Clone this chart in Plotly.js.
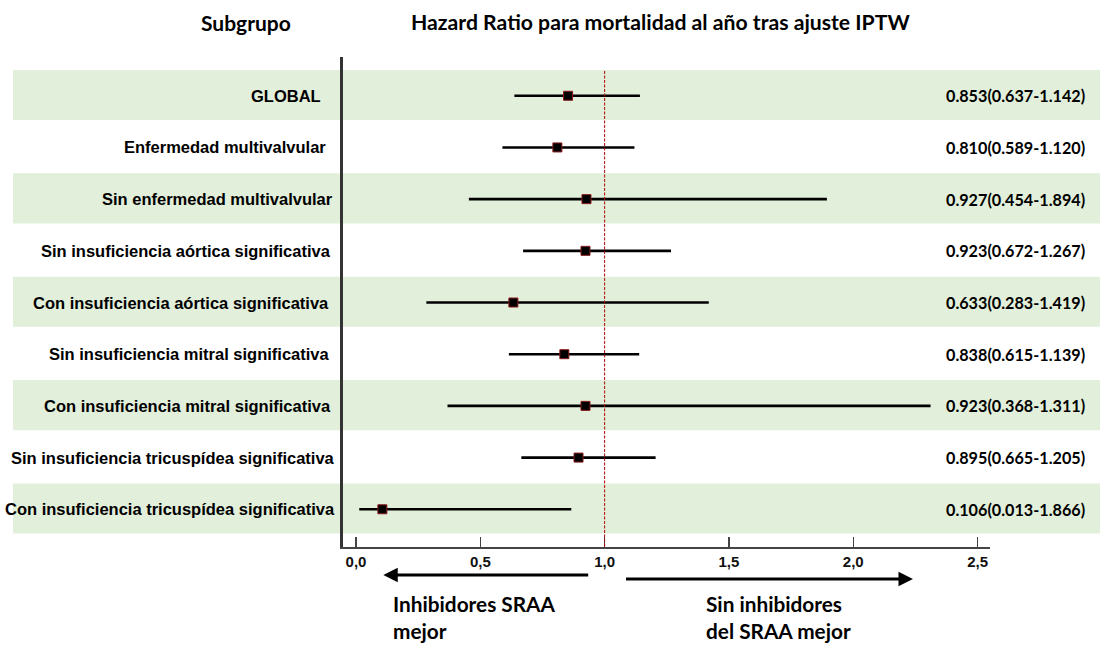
<!DOCTYPE html>
<html>
<head>
<meta charset="utf-8">
<script src="https://cdn.plot.ly/plotly-3.0.1.min.js"></script>
<style>html,body{margin:0;padding:0;background:#fff;}#chart{width:1100px;height:646px;}</style>
</head>
<body>
<div id="chart"></div>
<script>
// ---- data ----
const subgroups = [
  "GLOBAL",
  "Enfermedad multivalvular",
  "Sin enfermedad multivalvular",
  "Sin insuficiencia aórtica significativa",
  "Con insuficiencia aórtica significativa",
  "Sin insuficiencia mitral significativa",
  "Con insuficiencia mitral significativa",
  "Sin insuficiencia tricuspídea significativa",
  "Con insuficiencia tricuspídea significativa"
];
const hrEstimate = [0.853, 0.810, 0.927, 0.923, 0.633, 0.838, 0.923, 0.895, 0.106];
const ciLower    = [0.637, 0.589, 0.454, 0.672, 0.283, 0.615, 0.368, 0.665, 0.013];
const ciUpper    = [1.142, 1.120, 1.894, 1.267, 1.419, 1.139, 2.311, 1.205, 0.866];
const ciLabels = [
  "0.853(0.637-1.142)",
  "0.810(0.589-1.120)",
  "0.927(0.454-1.894)",
  "0.923(0.672-1.267)",
  "0.633(0.283-1.419)",
  "0.838(0.615-1.139)",
  "0.923(0.368-1.311)",
  "0.895(0.665-1.205)",
  "0.106(0.013-1.866)"
];
const xTickVals = [0, 0.5, 1.0, 1.5, 2.0, 2.5];
const nullHR = 1.0;

// ---- layout helpers ----
const L = 343, R = 990, T = 57, B = 547;
const W = R - L, H = B - T;
const px2paperX = p => (p - L) / W;
const px2paperY = p => (B - p) / H;
const labelRightPx = [323, 328, 335, 333, 331, 331, 333, 337, 337];

const arial = "Liberation Sans, Arial, sans-serif";
const calibri = "Lato, Carlito, Calibri, sans-serif";

const trace = {
  type: "scatter",
  mode: "markers",
  x: hrEstimate,
  y: subgroups,
  marker: {symbol: "square", size: 9, color: "#000", line: {color: "#8b1a1a", width: 1}},
  error_x: {
    type: "data", symmetric: false,
    array: hrEstimate.map((v, i) => ciUpper[i] - v),
    arrayminus: hrEstimate.map((v, i) => v - ciLower[i]),
    color: "#000", thickness: 2.6, width: 0
  },
  hoverinfo: "skip",
  showlegend: false
};

const shapes = [];
subgroups.forEach((s, i) => {
  if (i % 2 === 0) {
    shapes.push({
      type: "rect", layer: "below",
      xref: "paper", yref: "y",
      x0: px2paperX(13), x1: px2paperX(1100),
      y0: i - 0.5, y1: i + 0.47,
      fillcolor: "#e2efda", line: {width: 0}
    });
  }
});
shapes.push({
  type: "line", layer: "above", xref: "x", yref: "y",
  x0: nullHR, x1: nullHR, y0: -0.48, y1: 8.73,
  line: {color: "#b00000", width: 1, dash: "3px,1.5px"}
});

const annotations = [];
subgroups.forEach((s, i) => {
  annotations.push({
    xref: "paper", yref: "y", x: px2paperX(labelRightPx[i]), y: s,
    xanchor: "right", yanchor: "middle", showarrow: false,
    text: s, font: {family: arial, size: 16.5, color: "#000", weight: "bold"}
  });
  annotations.push({
    xref: "paper", yref: "y", x: px2paperX(1087), y: s,
    xanchor: "right", yanchor: "middle", showarrow: false,
    text: ciLabels[i], font: {family: calibri, size: 16.2, color: "#000", weight: "bold"}
  });
});
// headers
annotations.push({
  xref: "paper", yref: "paper", x: px2paperX(246), y: px2paperY(22),
  xanchor: "center", yanchor: "middle", showarrow: false,
  text: "Subgrupo", font: {family: calibri, size: 21, color: "#000", weight: "bold"}
});
annotations.push({
  xref: "paper", yref: "paper", x: px2paperX(660), y: px2paperY(22),
  xanchor: "center", yanchor: "middle", showarrow: false,
  text: "Hazard Ratio para mortalidad al año tras ajuste IPTW",
  font: {family: calibri, size: 21.2, color: "#000", weight: "bold"}
});
// direction arrows
annotations.push({
  xref: "x", yref: "paper", x: 0.11, y: px2paperY(575),
  axref: "x", ayref: "pixel", ax: 0.94, ay: 0,
  showarrow: true, arrowhead: 2, arrowsize: 0.9, arrowwidth: 3.2, arrowcolor: "#000", text: ""
});
annotations.push({
  xref: "x", yref: "paper", x: 2.24, y: px2paperY(579),
  axref: "x", ayref: "pixel", ax: 1.08, ay: 0,
  showarrow: true, arrowhead: 2, arrowsize: 0.9, arrowwidth: 3.2, arrowcolor: "#000", text: ""
});
// direction captions
annotations.push({
  xref: "paper", yref: "paper", x: px2paperX(391), y: px2paperY(617),
  xanchor: "left", yanchor: "middle", align: "left", showarrow: false,
  text: "Inhibidores SRAA<br>mejor",
  font: {family: calibri, size: 20.8, color: "#000", weight: "bold"}
});
annotations.push({
  xref: "paper", yref: "paper", x: px2paperX(704), y: px2paperY(617),
  xanchor: "left", yanchor: "middle", align: "left", showarrow: false,
  text: "Sin inhibidores<br>del SRAA mejor",
  font: {family: calibri, size: 20.8, color: "#000", weight: "bold"}
});

const layout = {
  width: 1100, height: 646,
  margin: {l: L, r: 1100 - R, t: T, b: 646 - B, pad: 0},
  paper_bgcolor: "#fff", plot_bgcolor: "rgba(0,0,0,0)",
  separators: ",.",
  showlegend: false,
  xaxis: {
    range: [-0.0523, 2.55], tickvals: xTickVals, tickformat: ".1f",
    ticks: "inside", ticklen: 10, tickwidth: 1.5, tickcolor: "#444",
    showline: true, linecolor: "#444", linewidth: 2,
    showgrid: false, zeroline: false,
    tickfont: {family: arial, size: 15, color: "#111", weight: "bold"},
    fixedrange: true
  },
  yaxis: {
    type: "category", range: [8.73, -0.75],
    showline: true, linecolor: "#333", linewidth: 3,
    showticklabels: false, ticks: "", showgrid: false, zeroline: false,
    fixedrange: true
  },
  shapes: shapes,
  annotations: annotations
};

Plotly.newPlot("chart", [trace], layout, {staticPlot: true, displayModeBar: false});
</script>
</body>
</html>
